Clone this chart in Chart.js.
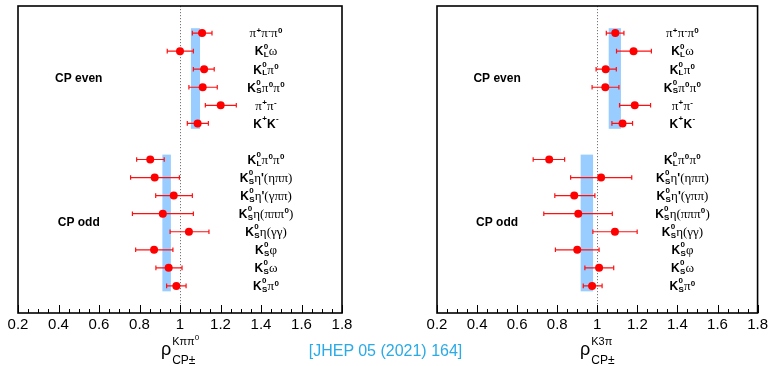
<!DOCTYPE html>
<html><head><meta charset="utf-8">
<script src="https://cdn.jsdelivr.net/npm/chart.js@4"></script>
<style>
html,body{margin:0;padding:0;background:#fff;width:771px;height:366px;overflow:hidden}
canvas{position:absolute;left:0;top:0}
#cite{position:absolute;left:0;width:771px;text-align:center;top:342px;font:16px "Liberation Sans",Arial,sans-serif;color:#2aaae6;white-space:nowrap}
</style></head><body>
<canvas id="cl" width="771" height="366"></canvas>
<canvas id="cr" width="771" height="366"></canvas>
<div id="cite">[JHEP 05 (2021) 164]</div>
<script>
// ---------- data ----------
const categories = ["π^{+}π^{-}π^{0}", "K^{0}_{L}ω", "K^{0}_{L}π^{0}", "K^{0}_{S}π^{0}π^{0}", "π^{+}π^{-}", "K^{+}K^{-}",
  "K^{0}_{L}π^{0}π^{0}", "K^{0}_{S}η'(ηππ)", "K^{0}_{S}η'(γππ)", "K^{0}_{S}η(πππ^{0})", "K^{0}_{S}η(γγ)", "K^{0}_{S}φ", "K^{0}_{S}ω", "K^{0}_{S}π^{0}"];
const rowSlots = [1, 2, 3, 4, 5, 6, 8, 9, 10, 11, 12, 13, 14, 15];
const groupNames = ["CP even", "CP odd"];
const groupSlots = [4.0, 12.0];

const kpipi0Value = [1.109, 1.000, 1.119, 1.112, 1.201, 1.087, 0.853, 0.875, 0.969, 0.915, 1.044, 0.872, 0.944, 0.982];
const kpipi0Low   = [1.061, 0.937, 1.066, 1.044, 1.125, 1.036, 0.786, 0.756, 0.880, 0.765, 0.951, 0.781, 0.881, 0.934];
const kpipi0High  = [1.158, 1.066, 1.169, 1.184, 1.278, 1.140, 0.922, 0.997, 1.061, 1.066, 1.143, 0.965, 1.010, 1.030];

const k3piValue = [1.090, 1.181, 1.042, 1.040, 1.187, 1.126, 0.760, 1.019, 0.885, 0.905, 1.088, 0.900, 1.009, 0.974];
const k3piLow   = [1.045, 1.096, 0.994, 0.974, 1.111, 1.073, 0.680, 0.867, 0.788, 0.733, 0.978, 0.791, 0.938, 0.930];
const k3piHigh  = [1.133, 1.270, 1.095, 1.108, 1.266, 1.176, 0.837, 1.172, 0.988, 1.075, 1.199, 1.009, 1.082, 1.024];

const kpipi0BandEven = [1.054, 1.099];
const kpipi0BandOdd  = [0.913, 0.955];
const k3piBandEven   = [1.057, 1.118];
const k3piBandOdd    = [0.917, 0.979];
const bandSlotsEven = [1, 6];
const bandSlotsOdd  = [8, 15];

const xTickMin = 0.2, xTickMax = 1.8, xMinorStep = 0.05, xMajorStep = 0.2;
const referenceValue = 1.0;
const labelXValue = 1.425;
const groupXValue = 0.5;
const kpipi0Title = ["ρ", "Kππ", "0", "CP±"];
const k3piTitle = ["ρ", "K3π", "", "CP±"];

// ---------- rich text ----------
const GREEK = 'πωηγφρ()';
function tokens(str){
  const out=[]; let i=0; let last=null;
  while(i<str.length){
    const c=str[i];
    if((c==='^'||c==='_')&&str[i+1]==='{'){
      const e=str.indexOf('}',i); const t=str.slice(i+2,e); const key=c==='^'?'sup':'sub';
      if(last && last[key]===undefined && out[out.length-1]===last){ last[key]=t; }
      else { last={s:true}; last[key]=t; last.afterGreek=out.length>0 && out[out.length-1].c!==undefined && GREEK.includes(out[out.length-1].c); out.push(last); }
      i=e+1;
    } else { out.push({c}); last=null; i++; }
  }
  return out;
}
const F_MAIN='bold 12px "Liberation Sans", Arial, sans-serif';
const F_GREEK='13px "Liberation Serif", serif';
const F_SCRIPT='bold 8px "Liberation Sans", Arial, sans-serif';
function charFont(c){return GREEK.includes(c)?F_GREEK:F_MAIN;}
function richWidth(ctx,toks){
  let w=0;
  for(const t of toks){
    if(t.s){ctx.font=F_SCRIPT; w+=Math.max(t.sup?ctx.measureText(t.sup).width:0,t.sub?ctx.measureText(t.sub).width:0)+0.5;}
    else {ctx.font=charFont(t.c); w+=ctx.measureText(t.c).width;}
  }
  return w;
}
function drawRich(ctx,str,cx,cy){
  const toks=tokens(str);
  let x=cx-richWidth(ctx,toks)/2; const base=cy+4.3;
  ctx.fillStyle='#000'; ctx.textAlign='left'; ctx.textBaseline='alphabetic';
  for(const t of toks){
    if(t.s){
      ctx.font=F_SCRIPT; let w=0;
      if(t.sup){ctx.fillText(t.sup,x+0.3,base-(t.afterGreek?4.6:6.8)); w=Math.max(w,ctx.measureText(t.sup).width);}
      if(t.sub){ctx.fillText(t.sub,x+0.3,base+1.8); w=Math.max(w,ctx.measureText(t.sub).width);}
      x+=w+0.5;
    } else {ctx.font=charFont(t.c); ctx.fillText(t.c,x,base); x+=ctx.measureText(t.c).width;}
  }
}

// ---------- chart builder ----------
function makeChart(id, padL, padR, vals, lows, highs, bandEven, bandOdd, title){
  const pts = vals.map((v,i)=>({x:v,y:rowSlots[i]+0.5}));
  const deco = {
    id:'deco',
    beforeDatasetsDraw(chart){
      const {ctx,chartArea:a,scales:{x,y}}=chart;
      ctx.save();
      ctx.strokeStyle='#777'; ctx.lineWidth=1; ctx.setLineDash([1.2,1.8]);
      const xr=Math.round(x.getPixelForValue(referenceValue))+0.5;
      ctx.beginPath(); ctx.moveTo(xr,a.top); ctx.lineTo(xr,a.bottom); ctx.stroke();
      ctx.setLineDash([]);
      ctx.fillStyle='#99ccff';
      [[bandEven,bandSlotsEven],[bandOdd,bandSlotsOdd]].forEach(([b,s])=>{
        const x0=x.getPixelForValue(b[0]), x1=x.getPixelForValue(b[1]);
        const y0=y.getPixelForValue(s[0]+0.5-0.27), y1=y.getPixelForValue(s[1]+0.5+0.3);
        ctx.fillRect(x0,y0,x1-x0,y1-y0);
      });
      ctx.strokeStyle='#ff1010'; ctx.lineWidth=1.2;
      vals.forEach((v,i)=>{
        const yy=y.getPixelForValue(rowSlots[i]+0.5);
        const xl=x.getPixelForValue(lows[i]), xh=x.getPixelForValue(highs[i]);
        ctx.beginPath(); ctx.moveTo(xl,yy); ctx.lineTo(xh,yy);
        ctx.moveTo(xl,yy-2.3); ctx.lineTo(xl,yy+2.3);
        ctx.moveTo(xh,yy-2.3); ctx.lineTo(xh,yy+2.3); ctx.stroke();
      });
      ctx.restore();
    },
    afterDraw(chart){
      const {ctx,chartArea:a,scales:{x,y}}=chart;
      ctx.save();
      ctx.strokeStyle='#000'; ctx.lineWidth=1.6;
      ctx.strokeRect(a.left,a.top,a.right-a.left,a.bottom-a.top);
      ctx.lineWidth=1;
      x.ticks.forEach(t=>{
        const px=Math.round(x.getPixelForValue(t.value))+0.5;
        const major=Math.abs(t.value/xMajorStep-Math.round(t.value/xMajorStep))<1e-6;
        ctx.beginPath(); ctx.moveTo(px,a.bottom); ctx.lineTo(px,a.bottom-(major?8:4)); ctx.stroke();
      });
      categories.forEach((c,i)=>drawRich(ctx,c,x.getPixelForValue(labelXValue),y.getPixelForValue(rowSlots[i]+0.5)));
      ctx.font='bold 12px "Liberation Sans", Arial, sans-serif'; ctx.textAlign='center'; ctx.textBaseline='middle'; ctx.fillStyle='#000';
      groupNames.forEach((g,i)=>ctx.fillText(g,x.getPixelForValue(groupXValue),y.getPixelForValue(groupSlots[i])));
      const cx=(a.left+a.right)/2;
      ctx.textAlign='left'; ctx.textBaseline='alphabetic';
      ctx.font='18px "Liberation Sans", Arial, sans-serif';
      const wr=ctx.measureText(title[0]).width;
      ctx.font='11px "Liberation Sans", Arial, sans-serif';
      const wsup=ctx.measureText(title[1]).width;
      ctx.font='8px "Liberation Sans", Arial, sans-serif';
      const wsup2=title[2]?ctx.measureText(title[2]).width:0;
      ctx.font='12px "Liberation Sans", Arial, sans-serif';
      const wsub=ctx.measureText(title[3]).width;
      const tw=wr+1+Math.max(wsup+wsup2,wsub);
      let tx=cx-tw/2;
      ctx.font='18px "Liberation Sans", Arial, sans-serif'; ctx.fillText(title[0],tx,355);
      tx+=wr+1;
      ctx.font='11px "Liberation Sans", Arial, sans-serif'; ctx.fillText(title[1],tx,345);
      if(title[2]){ctx.font='8px "Liberation Sans", Arial, sans-serif'; ctx.fillText(title[2],tx+wsup,340);}
      ctx.font='12px "Liberation Sans", Arial, sans-serif'; ctx.fillText(title[3],tx,364);
      ctx.restore();
    }
  };
  return new Chart(document.getElementById(id),{
    type:'scatter',
    data:{datasets:[{data:pts,pointRadius:4,pointHoverRadius:4,backgroundColor:'#ff0000',borderColor:'#ff0000',borderWidth:0}]},
    options:{
      responsive:false,animation:false,
      layout:{padding:{left:padL,right:padR,top:6,bottom:0}},
      plugins:{legend:{display:false},tooltip:{enabled:false}},
      scales:{
        x:{type:'linear',min:xTickMin,max:xTickMax,
          afterFit(s){s.height=53;},
          grid:{display:false,drawTicks:false},border:{display:false},
          ticks:{stepSize:xMinorStep,autoSkip:false,maxRotation:0,padding:3,color:'#000',
            font:{family:'"Liberation Sans", Arial, sans-serif',size:15},
            callback(v){const r=v/xMajorStep; return Math.abs(r-Math.round(r))<1e-6?String(Number(v.toFixed(1))):'';}}},
        y:{type:'linear',display:false,min:0,max:17,reverse:true}
      }
    },
    plugins:[deco]
  });
}
makeChart('cl',18,771-342,kpipi0Value,kpipi0Low,kpipi0High,kpipi0BandEven,kpipi0BandOdd,kpipi0Title);
makeChart('cr',437,771-760,k3piValue,k3piLow,k3piHigh,k3piBandEven,k3piBandOdd,k3piTitle);
</script>
</body></html>
